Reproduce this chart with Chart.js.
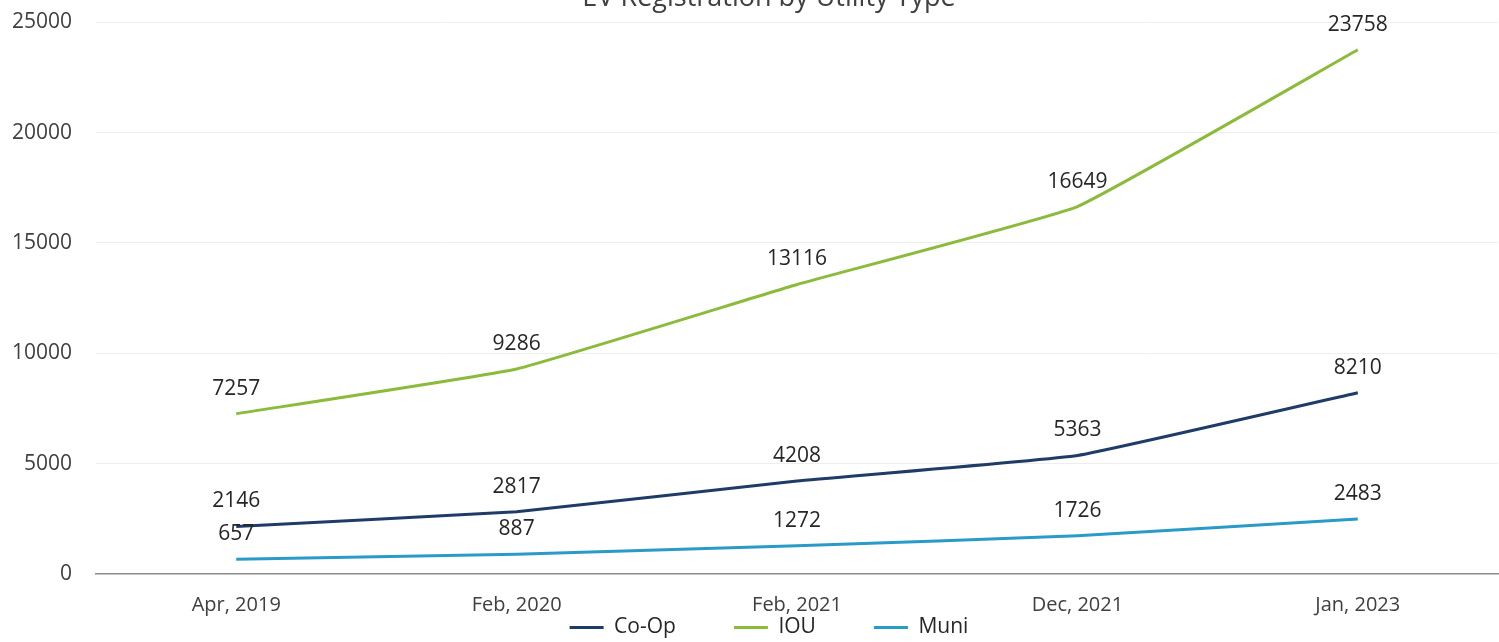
<!DOCTYPE html>
<html>
<head>
<meta charset="utf-8">
<script src="https://cdn.jsdelivr.net/npm/chart.js@4.4.0/dist/chart.umd.min.js"></script>
<style>
    html, body { margin: 0; padding: 0; background: #ffffff; overflow: hidden; }
    #wrap { position: relative; width: 1499px; height: 642px; overflow: hidden; }
    #chart { position: absolute; left: 0; top: -22px; }
</style>
</head>
<body>
<div id="wrap"><canvas id="chart" width="1499" height="670"></canvas></div>
<script>
// Data
const categories = ['Apr, 2019', 'Feb, 2020', 'Feb, 2021', 'Dec, 2021', 'Jan, 2023'];
const coOpValues = [2146, 2817, 4208, 5363, 8210];
const iouValues = [7257, 9286, 13116, 16649, 23758];
const muniValues = [657, 887, 1272, 1726, 2483];
const yTicks = [0, 5000, 10000, 15000, 20000, 25000];

const FONT = "'Open Sans', 'Liberation Sans', sans-serif";

// Draws the value above each point
const valueLabels = {
    id: 'valueLabels',
    afterDatasetsDraw(chart) {
        const ctx = chart.ctx;
        ctx.save();
        ctx.font = '21px ' + FONT;
        ctx.fillStyle = '#262626';
        ctx.textAlign = 'center';
        ctx.textBaseline = 'middle';
        chart.data.datasets.forEach((ds, i) => {
            const meta = chart.getDatasetMeta(i);
            meta.data.forEach((pt, j) => {
                ctx.fillText(String(ds.data[j]), pt.x, pt.y - 25);
            });
        });
        ctx.restore();
    }
};

// The original centres title and legend a bit right of the page middle
const shiftBlocks = {
    id: 'shiftBlocks',
    afterLayout(chart) {
        [chart.titleBlock, chart.legend].forEach(b => {
            if (b) {
                b.left += 26;
                b.right += 26;
            }
        });
    }
};

new Chart(document.getElementById('chart').getContext('2d'), {
    type: 'line',
    data: {
        labels: categories,
        datasets: [{
            label: 'Co-Op',
            data: coOpValues,
            borderColor: '#1f3b68',
            backgroundColor: '#1f3b68',
            borderWidth: 3,
            pointRadius: 0,
            tension: 0.1
        }, {
            label: 'IOU',
            data: iouValues,
            borderColor: '#8cbb3c',
            backgroundColor: '#8cbb3c',
            borderWidth: 3,
            pointRadius: 0,
            tension: 0.1
        }, {
            label: 'Muni',
            data: muniValues,
            borderColor: '#2a9bc8',
            backgroundColor: '#2a9bc8',
            borderWidth: 3,
            pointRadius: 0,
            tension: 0.1
        }]
    },
    options: {
        responsive: false,
        animation: false,
        layout: { padding: { left: -12, right: 1, top: 0, bottom: 0 } },
        plugins: {
            title: {
                display: true,
                text: 'EV Registration by Utility Type',
                color: '#404040',
                font: { family: FONT, size: 27, weight: 'normal' },
                padding: { top: 4, bottom: 8 }
            },
            legend: {
                position: 'bottom',
                // empty title with negative padding cancels the extra height
                // that the wide item spacing adds above the legend row
                title: { display: true, text: '', font: { size: 1 }, padding: { top: -59, bottom: 0 } },
                labels: {
                    usePointStyle: true,
                    pointStyle: 'line',
                    pointStyleWidth: 34,
                    boxHeight: 3,
                    color: '#262626',
                    font: { family: FONT, size: 21 },
                    padding: 58
                }
            },
            tooltip: { enabled: false }
        },
        scales: {
            x: {
                offset: true,
                grid: { display: false },
                border: { color: '#8c8c8c', width: 1.5 },
                ticks: {
                    color: '#404040',
                    font: { family: FONT, size: 20 },
                    maxRotation: 0,
                    padding: 11
                },
                afterFit(axis) {
                    axis.height = 43;
                }
            },
            y: {
                min: 0,
                max: 25000,
                afterBuildTicks(axis) {
                    axis.ticks = yTicks.map(v => ({ value: v }));
                },
                grid: { color: '#eeeeee', drawTicks: false },
                border: { display: false },
                ticks: {
                    color: '#404040',
                    font: { family: FONT, size: 21 },
                    padding: 24,
                    callback: v => String(v)
                }
            }
        }
    },
    plugins: [valueLabels, shiftBlocks]
});
</script>
</body>
</html>
